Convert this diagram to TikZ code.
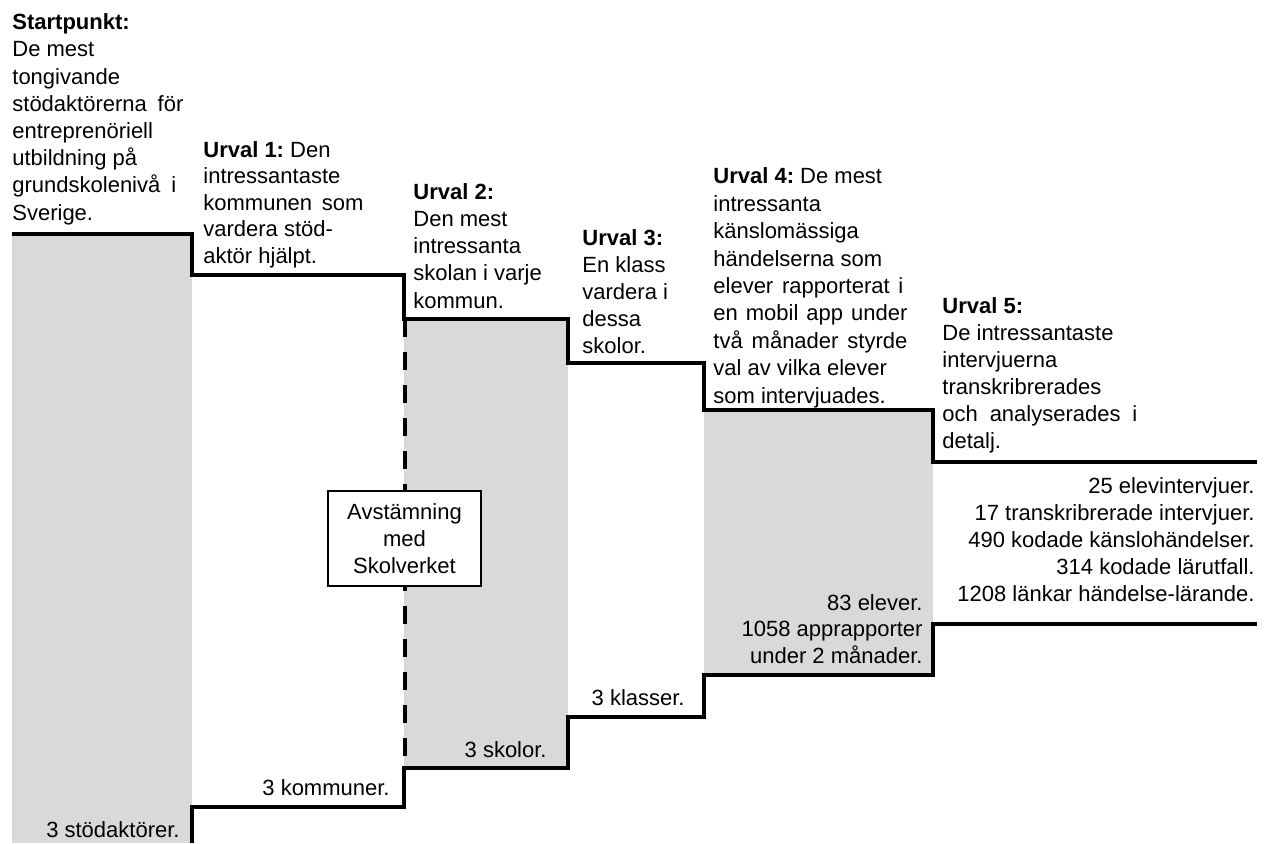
\documentclass[tikz,border=0pt]{standalone}
\usepackage{fontspec}
\setmainfont{Liberation Sans}
\frenchspacing
\definecolor{panelgrey}{HTML}{D9D9D9}
\begin{document}
\begin{tikzpicture}[x=0.5pt,y=-0.5pt,
  stair/.style={line width=2pt, line join=miter},
  panel/.style={fill=panelgrey, draw=none},
  lbl/.style={inner sep=0pt, anchor=base west, align=left, font=\fontsize{11}{13.6}\selectfont},
  cnt/.style={inner sep=0pt, anchor=base east, align=right, font=\fontsize{11}{13.5}\selectfont},
  checkbox/.style={draw, line width=0.6pt, fill=white, minimum width=76.5pt, minimum height=47.5pt, inner sep=0pt, align=center, font=\fontsize{11}{13.6}\selectfont},
  dashline/.style={line width=2pt, dash pattern=on 9pt off 7.5pt}
]
\useasboundingbox (0,0) rectangle (1270,843);

% top staircase corners
\coordinate (t0) at (12,234);
\coordinate (t1) at (192,234);
\coordinate (t2) at (192,275);
\coordinate (t3) at (404,275);
\coordinate (t4) at (404,319);
\coordinate (t5) at (568,319);
\coordinate (t6) at (568,363);
\coordinate (t7) at (704,363);
\coordinate (t8) at (704,410);
\coordinate (t9) at (933,410);
\coordinate (t10) at (933,462);
\coordinate (t11) at (1257,462);
% bottom staircase corners
\coordinate (b0) at (192,843);
\coordinate (b1) at (192,807);
\coordinate (b2) at (404,807);
\coordinate (b3) at (404,768);
\coordinate (b4) at (568,768);
\coordinate (b5) at (568,717);
\coordinate (b6) at (704,717);
\coordinate (b7) at (704,675);
\coordinate (b8) at (933,675);
\coordinate (b9) at (933,624);
\coordinate (b10) at (1257,624);

% grey panels
\fill[panel] (t0) rectangle (b0);
\fill[panel] (t4) rectangle (b4);
\fill[panel] (t8) rectangle (b8);

% box and dashed line
\node[checkbox] (chk) at (404.5,538.5) {Avstämning\\med\\Skolverket};
\draw[dashline] (chk.north |- t4) -- (chk.north);
\draw[dashline, dash phase=7pt] (chk.south) -- (chk.south |- b3);

% staircases
\draw[stair] (t0) -- (t1) -- (t2) -- (t3) -- (t4) -- (t5) -- (t6) -- (t7) -- (t8) -- (t9) -- (t10) -- (t11);
\draw[stair] (b0) -- (b1) -- (b2) -- (b3) -- (b4) -- (b5) -- (b6) -- (b7) -- (b8) -- (b9) -- (b10);

% top texts (anchored at the baseline of the last line)
\node[lbl] (s0) at (12,220) {\textbf{Startpunkt:}\\De mest\\tongivande\\\makebox[85.5pt][s]{stödaktörerna för}\\entreprenöriell\\utbildning på\\\makebox[82pt][s]{grundskolenivå i}\\Sverige.};
\node[lbl, font=\fontsize{11}{13.25}\selectfont] (s1) at (203,263) {\textbf{Urval 1:} Den\\intressantaste\\\makebox[80pt][s]{kommunen som}\\vardera stöd-\\aktör hjälpt.};
\node[lbl] (s2) at (413,308) {\textbf{Urval 2:}\\Den mest\\intressanta\\skolan i varje\\kommun.};
\node[lbl, font=\fontsize{11}{13.5}\selectfont] (s3) at (582,353) {\textbf{Urval 3:}\\En klass\\vardera i\\dessa\\skolor.};
\node[lbl, font=\fontsize{11}{13.7}\selectfont] (s4) at (713,403) {\textbf{Urval 4:} De mest\\intressanta\\känslomässiga\\händelserna som\\\makebox[95pt][s]{elever rapporterat i}\\\makebox[97pt][s]{en mobil app under}\\\makebox[97pt][s]{två månader styrde}\\val av vilka elever\\som intervjuades.};
\node[lbl, font=\fontsize{11}{13.5}\selectfont] (s5) at (942,448) {\textbf{Urval 5:}\\De intressantaste\\intervjuerna\\transkribrerades\\\makebox[97.5pt][s]{och analyserades i}\\detalj.};

% bottom counts
\node[cnt] (c0) at (180,837) {3 stödaktörer.};
\node[cnt] (c1) at (390,795) {3 kommuner.};
\node[cnt] (c2) at (547,757) {3 skolor.};
\node[cnt] (c3) at (685,705) {3 klasser.};
\node[cnt, font=\fontsize{11}{13.25}\selectfont] (c4) at (923,663) {83 elever.\\1058 apprapporter\\under 2 månader.};
\node[cnt] (c5) at (1255,601) {25 elevintervjuer.\\17 transkribrerade intervjuer.\\490 kodade känslohändelser.\\314 kodade lärutfall.\\1208 länkar händelse-lärande.};
\end{tikzpicture}
\end{document}
